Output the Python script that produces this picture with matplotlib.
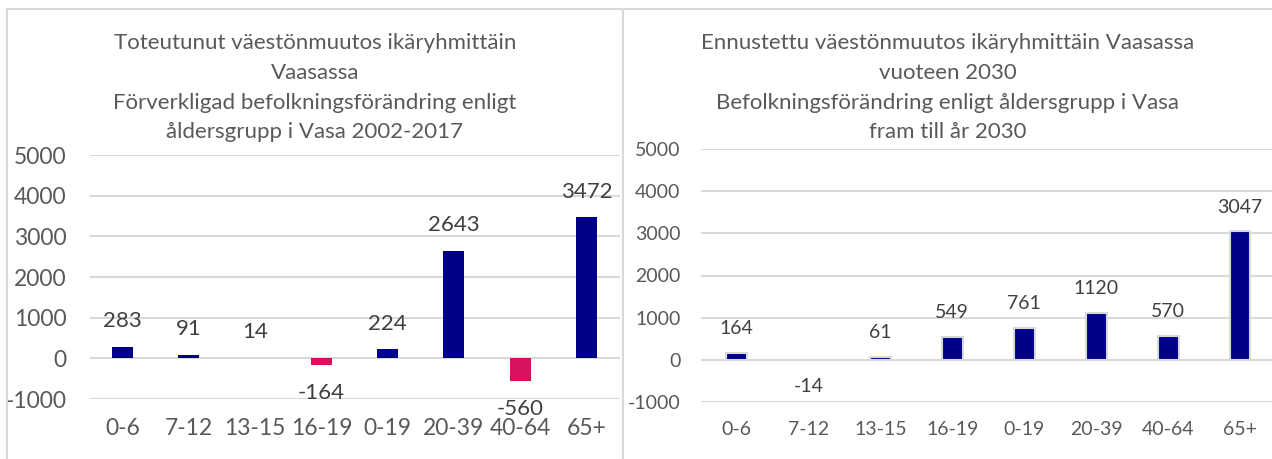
import matplotlib
matplotlib.use("Agg")
import matplotlib.pyplot as plt
from matplotlib.lines import Line2D

plt.rcParams['font.family'] = ['Lato', 'DejaVu Sans']

# ---- data ----
categories = ["0-6", "7-12", "13-15", "16-19", "0-19", "20-39", "40-64", "65+"]
realized_values = [283, 91, 14, -164, 224, 2643, -560, 3472]
forecast_values = [164, -14, 61, 549, 761, 1120, 570, 3047]
y_ticks = [-1000, 0, 1000, 2000, 3000, 4000, 5000]
left_title_lines = ["Toteutunut väestönmuutos ikäryhmittäin",
                    "Vaasassa",
                    "Förverkligad befolkningsförändring enligt",
                    "åldersgrupp i Vasa 2002-2017"]
right_title_lines = ["Ennustettu väestönmuutos ikäryhmittäin Vaasassa",
                     "vuoteen 2030",
                     "Befolkningsförändring enligt åldersgrupp i Vasa",
                     "fram till år 2030"]

# ---- style ----
NAVY = "#000088"
PINK = "#D7135E"
GRID = "#D9D9D9"
TICK_C = "#595959"
LABEL_C = "#404040"

W, H = 1272, 459
fig = plt.figure(figsize=(W / 100, H / 100), dpi=100)


def px_rect(x0, y_top, x1, y_bot):
    return [x0 / W, 1 - y_bot / H, (x1 - x0) / W, (y_bot - y_top) / H]


# frame lines
for (x0, y0, x1, y1) in [(7, 9, 7, H), (7, 9, W, 9), (623, 9, 623, H)]:
    fig.add_artist(Line2D([x0 / W, x1 / W], [1 - y0 / H, 1 - y1 / H],
                          transform=fig.transFigure, color=GRID, lw=1.5))


def draw_panel(rect, values, colors, edgecolor, edgelw, barw, tick_fs, label_fs,
               ypad, xpad, off_pos, off_neg):
    ax = fig.add_axes(rect)
    x = list(range(len(categories)))
    ax.bar(x, values, width=barw, color=colors, edgecolor=edgecolor,
           linewidth=edgelw, zorder=3)
    ax.set_xlim(-0.5, len(categories) - 0.5)
    ax.set_ylim(y_ticks[0], y_ticks[-1])
    ax.set_yticks(y_ticks)
    ax.set_yticklabels([str(t) for t in y_ticks])
    ax.set_xticks(x)
    ax.set_xticklabels(categories)
    ax.tick_params(axis='y', length=0, pad=ypad, labelsize=tick_fs, labelcolor=TICK_C)
    ax.tick_params(axis='x', length=0, pad=xpad, labelsize=tick_fs, labelcolor=TICK_C)
    ax.yaxis.grid(True, color=GRID, lw=1.5, zorder=0)
    ax.set_axisbelow(True)
    for s in ax.spines.values():
        s.set_visible(False)
    ax.patch.set_alpha(0)
    for i, v in enumerate(values):
        off = off_pos if v >= 0 else -off_neg
        ax.annotate(str(v), (i, v), xytext=(0, off), textcoords='offset points',
                    ha='center', va='center', fontsize=label_fs, color=LABEL_C,
                    zorder=4)
    return ax


left_colors = [NAVY if v >= 0 else PINK for v in realized_values]
draw_panel(px_rect(89.5, 155, 619.5, 399), realized_values, left_colors,
           'none', 0, 0.32, 16.5, 16, 16.5, 14, 18.4, 20)

right_colors = [NAVY for v in forecast_values]
draw_panel(px_rect(700.5, 149, 1276, 402), forecast_values, right_colors,
           GRID, 1.5, 0.29, 14, 14, 14.4, 13.7, 17.5, 18.7)

# titles
title_y = [43, 73, 103, 132]
for lines, cx in [(left_title_lines, 315), (right_title_lines, 948)]:
    for ln, y in zip(lines, title_y):
        fig.text(cx / W, 1 - y / H, ln, ha='center', va='center',
                 fontsize=16, color=TICK_C)

fig.savefig("out.png", dpi=100)
